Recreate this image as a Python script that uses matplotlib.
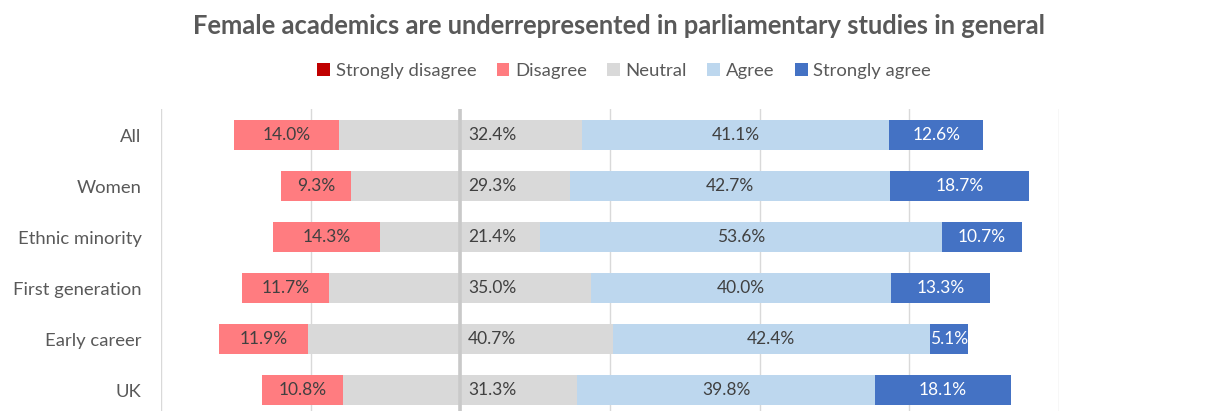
import numpy as np
import matplotlib
matplotlib.use("Agg")
from matplotlib import pyplot as plt
from matplotlib.patches import Patch

plt.rcParams['font.family'] = ['Lato', 'DejaVu Sans']

# Survey shares (%) per group
groups = ["All", "Women", "Ethnic minority", "First generation", "Early career", "UK"]
strongly_disagree = [0.0, 0.0, 0.0, 0.0, 0.0, 0.0]
disagree = [14.0, 9.3, 14.3, 11.7, 11.9, 10.8]
neutral = [32.4, 29.3, 21.4, 35.0, 40.7, 31.3]
agree = [41.1, 42.7, 53.6, 40.0, 42.4, 39.8]
strongly_agree = [12.6, 18.7, 10.7, 13.3, 5.1, 18.1]

labels = ["Strongly disagree", "Disagree", "Neutral", "Agree", "Strongly agree"]
colors = ["#C00000", "#FF7C80", "#D9D9D9", "#BDD7EE", "#4472C4"]
txt_col = "#404040"

sd = np.array(strongly_disagree)
d = np.array(disagree)
n = np.array(neutral)
a = np.array(agree)
sa = np.array(strongly_agree)

# left edge of each bar so that neutral is split around zero
start_sd = -(n / 2 + d + sd)
start_d = -(n / 2 + d)
start_n = -n / 2
start_a = n / 2
start_sa = n / 2 + a

fig = plt.figure(figsize=(12.06, 4.11), dpi=100)
ax = fig.add_axes([161 / 1206, 0, 898 / 1206, 302 / 411])

y = np.arange(len(groups))
h = 0.59
ax.barh(y, sd, left=start_sd, height=h, color=colors[0], zorder=2)
ax.barh(y, d, left=start_d, height=h, color=colors[1], zorder=2)
ax.barh(y, n, left=start_n, height=h, color=colors[2], zorder=2)
ax.barh(y, a, left=start_a, height=h, color=colors[3], zorder=2)
ax.barh(y, sa, left=start_sa, height=h, color=colors[4], zorder=2)

fs = 12.5
for i in range(len(groups)):
    ax.text(start_d[i] + d[i] / 2, y[i], f"{d[i]:.1f}%", ha="center", va="center",
            fontsize=fs, color=txt_col, zorder=4)
    ax.text(1.0, y[i], f"{n[i]:.1f}%", ha="left", va="center",
            fontsize=fs, color=txt_col, zorder=4)
    ax.text(start_a[i] + a[i] / 2, y[i], f"{a[i]:.1f}%", ha="center", va="center",
            fontsize=fs, color=txt_col, zorder=4)
    ax.text(start_sa[i] + sa[i] / 2, y[i], f"{sa[i]:.1f}%", ha="center", va="center",
            fontsize=fs, color="white", zorder=4)

ax.set_xlim(-40, 80)
ax.set_ylim(5.41, -0.51)
ax.set_xticks(np.arange(-40, 81, 20))
ax.set_xticklabels([])
ax.tick_params(axis="x", length=0)
ax.grid(axis="x", color="#D9D9D9", linewidth=1, zorder=0)
ax.axvline(0, color="#C9C9C9", linewidth=2.6, zorder=3)

ax.set_yticks(y)
ax.set_yticklabels(groups, fontsize=13.3, color="#595959")
ax.tick_params(axis="y", length=0, pad=14)
for s in ax.spines.values():
    s.set_visible(False)

fig.text(619 / 1206, 1 - 26 / 411, "Female academics are underrepresented in parliamentary studies in general",
         ha="center", va="center", fontsize=18.4, fontweight="bold", color="#595959")

handles = [Patch(facecolor=c, edgecolor="none") for c in colors]
fig.legend(handles, labels, loc="center", bbox_to_anchor=(624 / 1206, 1 - 71 / 411), ncol=5,
           frameon=False, fontsize=13.3, handlelength=0.7, handleheight=0.7,
           handletextpad=0.3, columnspacing=1.1, labelcolor="#595959")

fig.savefig("out.png", dpi=100)
